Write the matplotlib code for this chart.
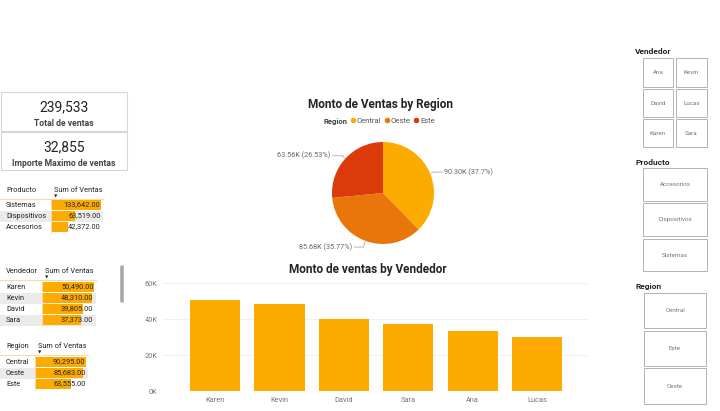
import numpy as np
import matplotlib
matplotlib.use("Agg")
import matplotlib.pyplot as plt
from matplotlib.patches import Rectangle
from matplotlib.lines import Line2D
from decimal import Decimal, ROUND_HALF_UP

plt.rcParams["font.family"] = ["Roboto", "DejaVu Sans"]

# data
total_ventas = 239533
max_venta = 32855

productos = ["Sistemas", "Dispositivos", "Accesorios"]
ventas_producto = [133642, 63519, 42372]

vendedores = ["Karen", "Kevin", "David", "Sara", "Ana", "Lucas"]
ventas_vendedor = [50490, 48310, 39805, 37373, 33290, 30265]

regiones = ["Central", "Oeste", "Este"]
ventas_region = [90295, 85683, 63555]

slicer_vendedor = ["Ana", "Kevin", "David", "Lucas", "Karen", "Sara"]
slicer_producto = ["Accesorios", "Dispositivos", "Sistemas"]
slicer_region = ["Central", "Este", "Oeste"]

yellow = "#FDAB00"
region_colors = ["#FDAB00", "#E9760B", "#DD3A0C"]
dark = "#252423"
grey = "#666666"

W, H = 720, 411
fig = plt.figure(figsize=(W / 100, H / 100), dpi=100)


def px_axes(x0, y0, x1, y1):
    return fig.add_axes([x0 / W, 1 - y1 / H, (x1 - x0) / W, (y1 - y0) / H])


def round2(v):
    # Power BI rounds half up, so 63.555 -> 63.56
    return Decimal(str(v)).quantize(Decimal("0.01"), rounding=ROUND_HALF_UP)


canvas = px_axes(0, 0, W, H)
canvas.set_xlim(0, W)
canvas.set_ylim(H, 0)
canvas.axis("off")

# KPI cards
cards = [(92, 131, f"{total_ventas:,}", "Total de ventas"),
         (132, 170, f"{max_venta:,}", "Importe Maximo de ventas")]
for top, bottom, value, label in cards:
    canvas.add_patch(Rectangle((1, top), 126, bottom - top, fill=False,
                               edgecolor="#D6D6D6", linewidth=0.8))
    canvas.text(64, top + 15, value, ha="center", va="center", fontsize=10, color=dark)
    canvas.text(64, top + 31, label, ha="center", va="center", fontsize=6.2,
                fontweight="bold", color="#444444")


def draw_table(header, names, values, y_head, rows, x_bar0, x_bar1, x_line):
    canvas.text(6, y_head, header, ha="left", va="center", fontsize=5.3, color=dark)
    canvas.text(x_bar0 + 2, y_head, "Sum of Ventas", ha="left", va="center",
                fontsize=5.3, color=dark)
    canvas.text(x_bar0 + 4, y_head + 6, "▼", ha="center", va="center",
                fontsize=3.2, color=dark)
    y_line = y_head + 9
    canvas.plot([0, x_line], [y_line, y_line], color="#F3DCA6", lw=0.8)
    canvas.plot([x_bar0 - 1, x_bar0 - 1], [y_line, rows[-1] + 6], color="#F3DCA6", lw=0.8)
    for i, (name, y) in enumerate(zip(names, rows)):
        if i % 2 == 1:
            canvas.add_patch(Rectangle((0, y - 5.5), x_line, 11, facecolor="#EBEBEB",
                                       edgecolor="none"))
        canvas.text(6, y, name, ha="left", va="center", fontsize=5.3, color=dark)

    ax = px_axes(x_bar0, rows[0] - 5.5, x_bar1, rows[-1] + 5.5)
    ax.barh(range(len(names)), values[:len(names)], height=0.9, color=yellow)
    ax.set_xlim(0, max(values))
    ax.set_ylim(len(names) - 0.5, -0.5)
    ax.axis("off")
    for i, v in enumerate(values[:len(names)]):
        ax.text(max(values) * 0.99, i, f"{v:,.2f}", ha="right", va="center",
                fontsize=5.3, color=dark)


draw_table("Producto", productos, ventas_producto, 190, [205, 216, 227], 52, 101, 103)
draw_table("Vendedor", vendedores[:4], ventas_vendedor, 271, [287, 298, 309, 320], 43, 94, 96)
draw_table("Region", regiones, ventas_region, 346, [362, 373, 384], 36, 86, 88)

# scrollbar of the Vendedor table
canvas.plot([122, 122], [267, 301], color="#A8A8A8", lw=2.6, solid_capstyle="round")

# pie chart
canvas.text(381, 104, "Monto de Ventas by Region", ha="center", va="center",
            fontsize=8.5, fontweight="bold", color=dark)
canvas.text(324, 121, "Region", ha="left", va="center", fontsize=5.5,
            fontweight="bold", color="#444444")
handles = [Line2D([], [], marker="o", linestyle="none", markersize=4,
                  markerfacecolor=c, markeredgecolor="none") for c in region_colors]
fig.legend(handles, regiones, loc="center left", bbox_to_anchor=(346 / W, 1 - 121 / H),
           ncol=3, frameon=False, fontsize=5.5, handletextpad=0.05, columnspacing=0.4,
           handlelength=0.8, labelcolor="#555555", borderpad=0)

pie_ax = px_axes(332, 142, 434, 244)
wedges, _ = pie_ax.pie(ventas_region, colors=region_colors, startangle=90,
                       counterclock=False, radius=1, wedgeprops=dict(linewidth=0))
pie_ax.set_xlim(-1, 1)
pie_ax.set_ylim(-1, 1)

total_region = sum(ventas_region)
label_pos = [(1.2, 0.41, "left"), (-0.6, -1.06, "right"), (-1.03, 0.73, "right")]
for w, v, (tx, ty, ha) in zip(wedges, ventas_region, label_pos):
    ang = np.deg2rad((w.theta1 + w.theta2) / 2)
    ex, ey = np.cos(ang), np.sin(ang)
    p = round2(v / total_region * 100)
    pct_txt = str(p).rstrip("0").rstrip(".")
    label = f"{round2(v / 1000)}K ({pct_txt}%)"
    end_x = tx - 0.04 if ha == "left" else tx + 0.04
    pie_ax.plot([ex * 1.02, ex * 1.02 + (0.036 if ha == "left" else -0.036), end_x],
                [ey * 1.02, ty, ty], color="#AAAAAA", lw=0.6, clip_on=False)
    pie_ax.text(tx, ty, label, ha=ha, va="center", fontsize=5.2, color=grey)

# bar chart
canvas.text(368, 269, "Monto de ventas by Vendedor", ha="center", va="center",
            fontsize=8.5, fontweight="bold", color=dark)
bar_ax = px_axes(163, 283, 588, 391)
x = np.arange(len(vendedores))
bar_ax.bar(x, ventas_vendedor, width=0.78, color=yellow, zorder=2)
bar_ax.set_ylim(0, 60000)
bar_ax.set_xlim(-0.81, 5.79)
bar_ax.set_yticks([0, 20000, 40000, 60000])
bar_ax.set_yticklabels([f"{int(t / 1000)}K" for t in [0, 20000, 40000, 60000]])
bar_ax.set_xticks(x)
bar_ax.set_xticklabels(vendedores)
bar_ax.tick_params(length=0, labelsize=5.3, labelcolor="#777777", pad=4)
bar_ax.grid(axis="y", color="#EEEEEE", linewidth=0.6, zorder=0)
for s in bar_ax.spines.values():
    s.set_visible(False)

# slicers
def slicer(title, title_y, items, boxes):
    canvas.text(635, title_y, title, ha="left", va="center", fontsize=6,
                fontweight="bold", color=dark)
    for item, (x0, y0, x1, y1) in zip(items, boxes):
        canvas.add_patch(Rectangle((x0, y0), x1 - x0, y1 - y0, fill=False,
                                   edgecolor="#B3B3B3", linewidth=0.7))
        canvas.text((x0 + x1) / 2, (y0 + y1) / 2, item, ha="center", va="center",
                    fontsize=4.5, color="#777777")


vend_boxes = []
for r0, r1 in [(58, 87), (89, 117), (119, 147)]:
    vend_boxes.append((643, r0, 673, r1))
    vend_boxes.append((676, r0, 707, r1))
slicer("Vendedor", 51, slicer_vendedor, vend_boxes)
slicer("Producto", 162, slicer_producto,
       [(643, 168, 707, 201), (643, 203, 707, 236), (643, 239, 707, 271)])
slicer("Region", 286, slicer_region,
       [(644, 293, 706, 328), (644, 331, 706, 366), (644, 368, 706, 404)])

fig.savefig("out.png", dpi=100)
